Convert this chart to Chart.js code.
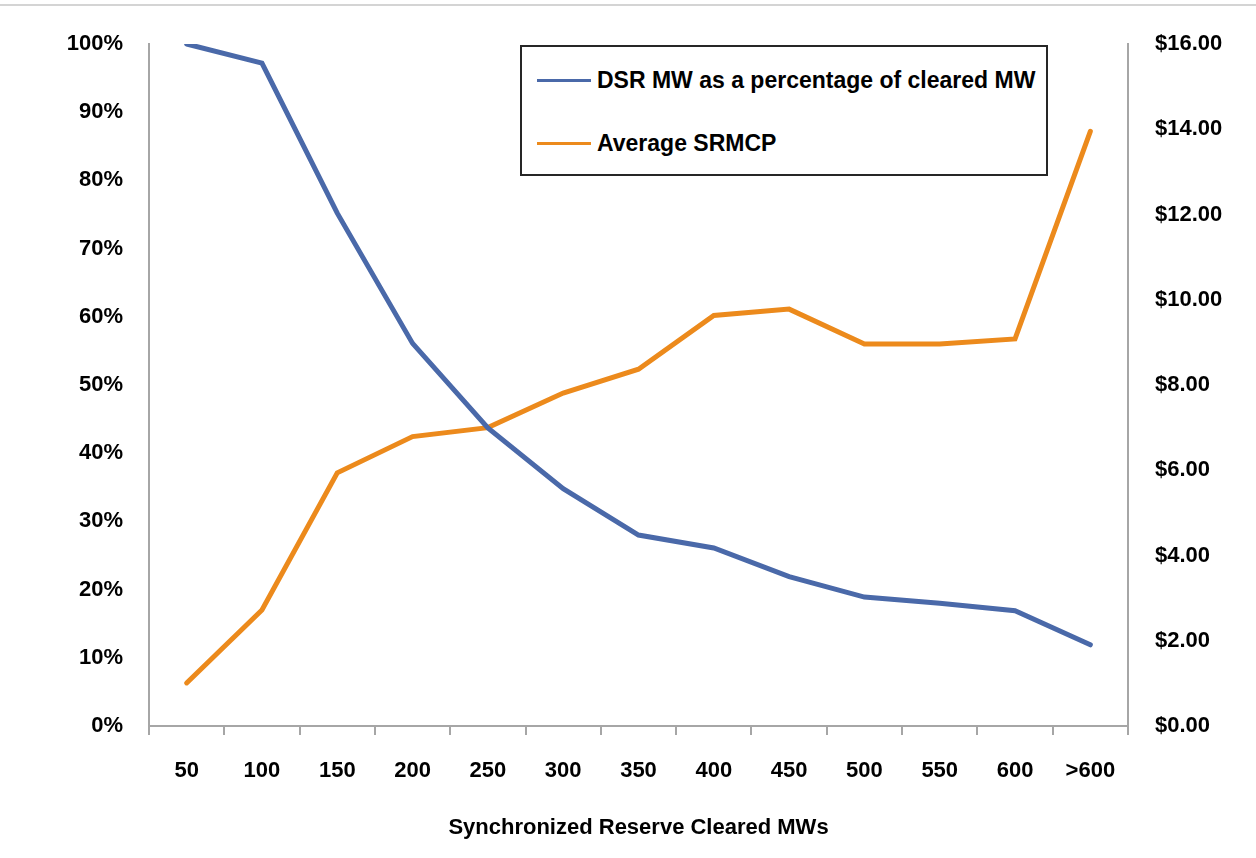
<!DOCTYPE html>
<html>
<head>
<meta charset="utf-8">
<script src="https://cdn.jsdelivr.net/npm/chart.js@4"></script>
<style>
  html, body { margin: 0; padding: 0; background: #fff; }
  #wrap { position: relative; width: 1256px; height: 858px; }
  #topline { position: absolute; left: 0; top: 4px; width: 1256px; height: 2px; background: #d4d4d4; }
  #legend { position: absolute; left: 520px; top: 45px; width: 524px; height: 127px; border: 2px solid #262626; background: #fff;
            font: bold 23px "Liberation Sans", Arial, sans-serif; color: #000; }
  .row { position: absolute; left: 15px; height: 30px; display: flex; align-items: center; white-space: nowrap; }
  .swatch { width: 54px; height: 3px; margin-right: 6px; }
</style>
</head>
<body>
<div id="wrap">
  <div id="topline"></div>
  <canvas id="chart" width="1256" height="858"></canvas>
  <div id="legend">
    <div class="row" style="top:18px"><span class="swatch" style="background:#4a69a9"></span>DSR MW as a percentage of cleared MW</div>
    <div class="row" style="top:81px"><span class="swatch" style="background:#ec8a1c"></span>Average SRMCP</div>
  </div>
</div>
<script>
const categories = ['50', '100', '150', '200', '250', '300', '350', '400', '450', '500', '550', '600', '>600'];
const dsrPercent = [100, 97.2, 75.2, 56.1, 43.7, 34.8, 28.0, 26.1, 21.9, 18.9, 18.0, 16.9, 11.9];
const avgSrmcp = [1.01, 2.72, 5.94, 6.79, 7.0, 7.81, 8.37, 9.63, 9.78, 8.96, 8.96, 9.08, 13.95];

const font = { family: '"Liberation Sans", Arial, sans-serif', size: 22, weight: 'bold' };
const axisGray = '#a6a6a6';

new Chart(document.getElementById('chart'), {
  type: 'line',
  data: {
    labels: categories,
    datasets: [
      {
        label: 'DSR MW as a percentage of cleared MW',
        data: dsrPercent,
        borderColor: '#4a69a9',
        borderWidth: 5,
        yAxisID: 'y'
      },
      {
        label: 'Average SRMCP',
        data: avgSrmcp,
        borderColor: '#ec8a1c',
        borderWidth: 5,
        yAxisID: 'y1'
      }
    ]
  },
  options: {
    responsive: false,
    animation: false,
    layout: { padding: { top: 44, left: 0, right: 0, bottom: 0 } },
    elements: {
      point: { radius: 0 },
      line: { tension: 0, borderCapStyle: 'round', borderJoinStyle: 'miter' }
    },
    plugins: { legend: { display: false }, tooltip: { enabled: false } },
    scales: {
      x: {
        offset: true,
        grid: { display: true, drawOnChartArea: false, offset: true, tickLength: 9, color: axisGray, lineWidth: 2 },
        border: { display: true, color: axisGray, width: 2 },
        ticks: { color: '#000', font, padding: 23, maxRotation: 0 },
        title: { display: true, text: 'Synchronized Reserve Cleared MWs', color: '#000', font, padding: { top: 0, bottom: 17 } },
        afterFit: s => { s.height = 132; }
      },
      y: {
        position: 'left',
        min: 0, max: 100,
        grid: { display: false },
        border: { display: true, color: axisGray, width: 2 },
        ticks: { stepSize: 10, color: '#000', font, padding: 18, callback: v => v + '%' },
        afterFit: s => { s.width = 149; }
      },
      y1: {
        position: 'right',
        min: 0, max: 16,
        grid: { display: false },
        border: { display: true, color: axisGray, width: 2 },
        ticks: { stepSize: 2, color: '#000', font, padding: 19, callback: v => '$' + v.toFixed(2) },
        afterFit: s => { s.width = 128; }
      }
    }
  }
});
</script>
</body>
</html>
